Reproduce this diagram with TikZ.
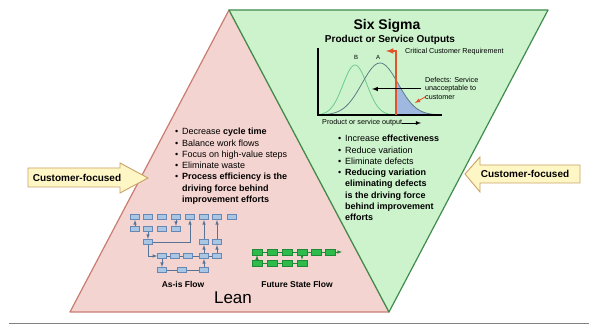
\documentclass[tikz,border=0pt]{standalone}
\usepackage{fontspec}
\setmainfont{Liberation Sans}
\usetikzlibrary{arrows,shapes,positioning}

\definecolor{leanfill}{HTML}{F4D4D0}
\definecolor{leanedge}{HTML}{C97C72}
\definecolor{sigfill}{HTML}{CDF3CD}
\definecolor{sigedge}{HTML}{3F8C4C}
\definecolor{custfill}{HTML}{FFF6C6}
\definecolor{custedge}{HTML}{C9A262}
\definecolor{asisfill}{HTML}{A9C6E4}
\definecolor{asisedge}{HTML}{6688B2}
\definecolor{tobefill}{HTML}{2FBA4C}
\definecolor{tobeedge}{HTML}{1D8B35}
\definecolor{critred}{HTML}{E2532B}
\definecolor{defblue}{HTML}{9FB8E0}
\definecolor{curveA}{HTML}{5A7C86}
\definecolor{curveB}{HTML}{6CCB8C}

\tikzstyle{asis}=[draw=asisedge, fill=asisfill, minimum width=9pt, minimum height=5.5pt, inner sep=0pt, line width=0.5pt]
\tikzstyle{tobe}=[draw=tobeedge, fill=tobefill, minimum width=10pt, minimum height=6pt, inner sep=0pt, line width=0.5pt]
\tikzstyle{asisline}=[draw=asisedge!85!black, line width=0.6pt]
\tikzstyle{tobeline}=[draw=tobeedge, line width=0.6pt]
\tikzstyle{custarrow}=[draw=custedge, fill=custfill, line width=0.9pt, line join=miter]
\tikzstyle{custtext}=[inner sep=0pt, font=\fontsize{10}{12}\selectfont\bfseries]
\tikzstyle{bullets}=[anchor=north west, inner sep=0pt, align=left, font=\fontsize{9}{11.3}\selectfont]
\tikzstyle{small}=[inner sep=0pt, font=\fontsize{7.2}{8.5}\selectfont]

\newcommand{\bitem}[1]{\makebox[7pt][l]{\textbullet}#1}
\newcommand{\bcont}[1]{\hspace*{7pt}#1}

\begin{document}
\begin{tikzpicture}[x=1pt,y=-1pt,>=latex]
\useasboundingbox (0,0) rectangle (589,328);

% the two triangles
\filldraw[fill=leanfill, draw=leanedge, line width=1.2pt, line join=round] (229,10) -- (70,312) -- (389,312) -- cycle;
\filldraw[fill=sigfill, draw=sigedge, line width=1.2pt, line join=round] (229,10) -- (548,10) -- (389,312) -- cycle;
\draw[gray, line width=1pt] (9,324) -- (589,324);

% customer arrows
\filldraw[custarrow] (28,168) -- (120,168) -- (120,163) -- (148,178) -- (120,193) -- (120,187) -- (28,187) -- cycle;
\node[custtext] (custL) at (77,177.5) {Customer-focused};
\filldraw[custarrow] (580,165) -- (480,165) -- (480,157) -- (465,174) -- (480,192) -- (480,183) -- (580,183) -- cycle;
\node[custtext] (custR) at (525,174) {Customer-focused};

% six sigma side
\node[font=\fontsize{14}{16}\selectfont\bfseries] (sstitle) at (387,26) {Six Sigma};
\node[font=\fontsize{10}{12}\selectfont\bfseries] (sssub) at (390,40) {Product or Service Outputs};

\coordinate (orig) at (318,115);
\coordinate (ytop) at (318,48);
\coordinate (xend) at (442,115);
\fill[defblue] (396,115) -- plot[domain=396:440, samples=30] (\x, {115-52*exp(-((\x-380)/18)^2/2)}) -- (440,115) -- cycle;
\draw[curveB, line width=0.8pt] plot[domain=322:400, samples=60] (\x, {115-50*exp(-((\x-355)/12)^2/2)});
\draw[curveA, line width=0.8pt] plot[domain=322:440, samples=60] (\x, {115-52*exp(-((\x-380)/18)^2/2)});
\draw[line width=1.3pt] (ytop) -- (orig) -- (xend);
\node[small, font=\fontsize{6}{7}\selectfont] (labB) at (356,57) {B};
\node[small, font=\fontsize{6}{7}\selectfont] (labA) at (378,57) {A};

\coordinate (critBot) at (396,115);
\coordinate (critTop) at (396,51);
\coordinate (critTip) at (386,51);
\draw[critred, line width=1.5pt, ->] (critBot) -- (critTop) -- (critTip);
\node[small, anchor=west] (critlbl) at (405,52) {Critical Customer Requirement};

\node[small, anchor=north west, align=left] (deflbl) at (425,77) {Defects: Service\\unacceptable to\\customer};
\coordinate (defFrom) at (421,89);
\coordinate (defTo) at (372,89);
\draw[line width=1pt, ->] (defFrom) -- (defTo);
\coordinate (oraFrom) at (425,97);
\coordinate (oraTo) at (415,103);
\draw[critred, line width=0.8pt, ->] (oraFrom) -- (oraTo);

\node[small, anchor=west] (xlbl) at (322,123) {Product or service output};
\coordinate (xarr) at (421,123);
\draw[line width=0.8pt, ->] (xlbl.east) -- (xarr);

\node[bullets] (sslist) at (338,135) {\bitem{Increase \textbf{effectiveness}}\\
  \bitem{Reduce variation}\\
  \bitem{Eliminate defects}\\
  \bitem{\textbf{Reducing variation}}\\
  \bcont{\textbf{eliminating defects}}\\
  \bcont{\textbf{is the driving force}}\\
  \bcont{\textbf{behind improvement}}\\
  \bcont{\textbf{efforts}}};

% lean side
\node[bullets] (leanlist) at (175,128) {\bitem{Decrease \textbf{cycle time}}\\
  \bitem{Balance work flows}\\
  \bitem{Focus on high-value steps}\\
  \bitem{Eliminate waste}\\
  \bitem{\textbf{Process efficiency is the}}\\
  \bcont{\textbf{driving force behind}}\\
  \bcont{\textbf{improvement efforts}}};

% as-is flow
\foreach \x [count=\i] in {135,148,162,176,190,204,217,232}
  \node[asis] (r1c\i) at (\x,217) {};
\foreach \x [count=\i] in {135,148,162,176}
  \node[asis] (r2c\i) at (\x,229) {};
\node[asis] (r3c2) at (148,242) {};
\node[asis] (r3c6) at (204,242) {};
\node[asis] (r3c7) at (217,242) {};
\foreach \x [count=\i] in {162,175,188,204,217}
  \node[asis] (r4c\i) at (\x,256) {};
\foreach \x [count=\i] in {162,182,204}
  \node[asis] (r5c\i) at (\x,270) {};

\draw[asisline,->] (r2c1) -- (r1c1);
\draw[asisline,->] (r1c4) -- (r2c4);
\draw[asisline,->] (r2c2) -- (r3c2);
\draw[asisline,->] (r3c2) -| (r1c5);
\draw[asisline,->] (r3c2) |- (r4c1);
\draw[asisline] (r4c1) -- (r4c2) -- (r4c3) -- (r4c4) -- (r4c5);
\draw[asisline,->] (r4c4) -- (r3c6);
\draw[asisline,->] (r3c6) -- (r1c6);
\draw[asisline,->] (r4c5) -- (r3c7);
\draw[asisline,->] (r3c7) -- (r1c7);
\draw[asisline,->] (r4c1) -- (r5c1);
\draw[asisline] (r5c1) -- (r5c2) -- (r5c3);
\draw[asisline,->] (r5c3) -- (r4c4);
\node[font=\fontsize{8.5}{10}\selectfont\bfseries] (asislbl) at (183,284) {As-is Flow};

% future state flow
\foreach \x [count=\i] in {257,272,287,302,316,330}
  \node[tobe] (f\i) at (\x,252) {};
\foreach \x [count=\i] in {257,272,287,302}
  \node[tobe] (g\i) at (\x,263) {};
\coordinate (fend) at (342,252);
\draw[tobeline] (f1) -- (f2) -- (f3) -- (f4) -- (f5) -- (f6);
\draw[tobeline,->] (f6) -- (fend);
\draw[tobeline] (g1) -- (g2) -- (g3) -- (g4);
\draw[tobeline,->] (g1) -- (f1);
\draw[tobeline,->] (f4) -- (g4);
\node[font=\fontsize{8.5}{10}\selectfont\bfseries] (tobelbl) at (297,284) {Future State Flow};

\node[font=\fontsize{17}{20}\selectfont] (leanlbl) at (233,298) {Lean};
\end{tikzpicture}
\end{document}
